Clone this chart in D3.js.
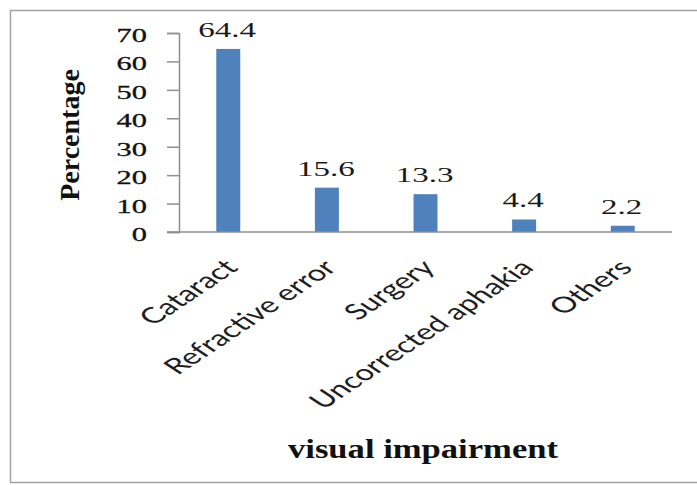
<!DOCTYPE html>
<html>
<head>
<meta charset="utf-8">
<script src="https://cdn.jsdelivr.net/npm/d3@7"></script>
<style>
  html, body { margin: 0; padding: 0; background: #fff; }
  svg { display: block; }
</style>
</head>
<body>
<svg id="chart" width="697" height="485"></svg>
<script>
// Causes of visual impairment (percentage of cases)
const categories = ["Cataract", "Refractive error", "Surgery", "Uncorrected aphakia", "Others"];
const percentages = [64.4, 15.6, 13.3, 4.4, 2.2];
const yTicks = [0, 10, 20, 30, 40, 50, 60, 70];
const yTitle = "Percentage";
const xTitle = "visual impairment";

const svg = d3.select("#chart");
const W = 697, H = 485;
const plot = { left: 179, right: 672, top: 33, bottom: 232 };
const serif = "'Liberation Serif', 'Times New Roman', serif";
const sans = "Lato, 'Open Sans', sans-serif";
const axisColor = "#8f8f8f";
const barColor = "#4f81bd";
const textStretch = 1.6;

// outer frame
svg.append("rect")
  .attr("x", 10.5).attr("y", 10.5)
  .attr("width", W + 20).attr("height", 472)
  .attr("fill", "#fff")
  .attr("stroke", "#a3a3a3").attr("stroke-width", 1.5);

const x = d3.scaleBand()
  .domain(categories)
  .range([plot.left, plot.right])
  .paddingInner(0.757).paddingOuter(0.378);

const y = d3.scaleLinear().domain([0, 70]).range([plot.bottom, plot.top]);

// widen horizontally laid-out text by a fixed factor
function stretch(sel, k) {
  sel.each(function () {
    const len = this.getComputedTextLength();
    d3.select(this).attr("textLength", len * k).attr("lengthAdjust", "spacingAndGlyphs");
  });
}

// y axis
const yAxis = svg.append("g")
  .attr("transform", `translate(${plot.left},0)`)
  .call(d3.axisLeft(y).tickValues(yTicks).tickSize(12).tickPadding(20).tickFormat(d3.format("d")));
yAxis.select(".domain").attr("stroke", axisColor).attr("stroke-width", 1.5);
yAxis.selectAll(".tick line").attr("stroke", axisColor).attr("stroke-width", 1.5);
yAxis.selectAll(".tick text")
  .attr("fill", "#111")
  .attr("font-family", serif)
  .attr("font-size", 19)
  .attr("stroke", "#111").attr("stroke-width", 0.3)
  .attr("dy", "0.45em")
  .call(stretch, textStretch);

// bars
svg.append("g").selectAll("rect")
  .data(percentages)
  .join("rect")
  .attr("x", (d, i) => x(categories[i]))
  .attr("y", d => y(d))
  .attr("width", x.bandwidth())
  .attr("height", d => y(0) - y(d))
  .attr("fill", barColor);

// x axis line
svg.append("line")
  .attr("x1", plot.left - 12).attr("x2", plot.right)
  .attr("y1", y(0)).attr("y2", y(0))
  .attr("stroke", axisColor).attr("stroke-width", 1.5);

// value labels
svg.append("g").selectAll("text")
  .data(percentages)
  .join("text")
  .attr("x", (d, i) => x(categories[i]) + x.bandwidth() / 2 - 1)
  .attr("y", d => y(d) - 12)
  .attr("text-anchor", "middle")
  .attr("fill", "#1a1a1a")
  .attr("font-family", serif)
  .attr("font-size", 20)
  .text(d => d.toFixed(1))
  .call(stretch, 1.65);

// category labels, slanted
svg.append("g").selectAll("text")
  .data(categories)
  .join("text")
  .attr("transform", d => `translate(${x(d) + x.bandwidth() / 2 + 11},${y(0) + 37}) scale(1.5,1) rotate(-45)`)
  .attr("text-anchor", "end")
  .attr("fill", "#1e1e1e")
  .attr("font-family", sans)
  .attr("font-size", 22)
  .text(d => d);

// axis titles
svg.append("text")
  .attr("transform", `translate(79,135) rotate(-90)`)
  .attr("text-anchor", "middle")
  .attr("fill", "#111")
  .attr("font-family", serif)
  .attr("font-weight", "bold")
  .attr("font-size", 28)
  .text(yTitle);

const xt = svg.append("text")
  .attr("x", 423).attr("y", 458)
  .attr("text-anchor", "middle")
  .attr("fill", "#111")
  .attr("font-family", serif)
  .attr("font-weight", "bold")
  .attr("font-size", 28)
  .text(xTitle);
xt.attr("textLength", 270).attr("lengthAdjust", "spacingAndGlyphs");
</script>
</body>
</html>
